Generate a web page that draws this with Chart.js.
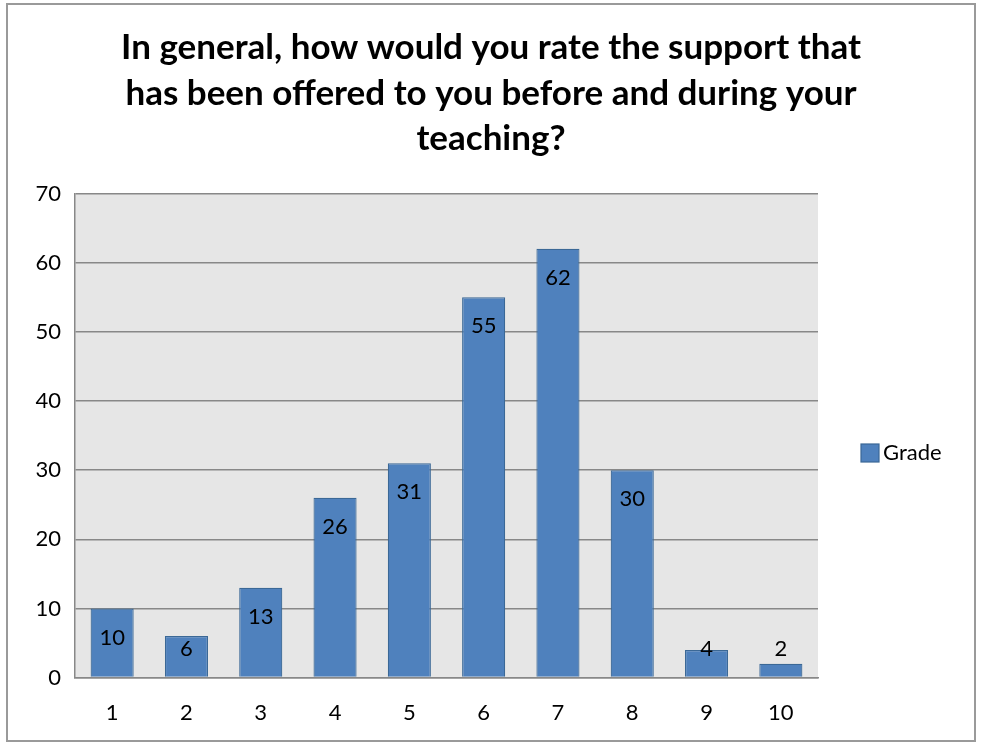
<!DOCTYPE html>
<html>
<head>
<meta charset="utf-8">
<script src="https://cdn.jsdelivr.net/npm/chart.js@4"></script>
<style>
  html, body { margin: 0; padding: 0; background: #fff; }
  #wrap { position: absolute; left: 0; top: 0; width: 982px; height: 746px; }
</style>
</head>
<body>
<div id="wrap"><canvas id="grades"></canvas></div>
<script>
// values
const categories = ['1', '2', '3', '4', '5', '6', '7', '8', '9', '10'];
const gradeCounts = [10, 6, 13, 26, 31, 55, 62, 30, 4, 2];
const yTicks = [0, 10, 20, 30, 40, 50, 60, 70];
const titleLines = [
  'In general, how would you rate the support that',
  'has been offered to you before and during your',
  'teaching?'
];

const FONT = 'Lato, "Liberation Sans", sans-serif';

// gray plot background + outer frame
const frame = {
  id: 'frame',
  beforeDraw(chart) {
    const { ctx, chartArea: a } = chart;
    ctx.save();
    ctx.fillStyle = '#e6e6e6';
    ctx.fillRect(a.left, a.top, a.right - a.left, a.bottom - a.top);
    ctx.strokeStyle = '#9a9a9a';
    ctx.lineWidth = 2;
    ctx.strokeRect(7, 4, 968, 737);
    ctx.restore();
  }
};

// value labels just inside the top of each bar
const barLabels = {
  id: 'barLabels',
  afterDatasetsDraw(chart) {
    const { ctx } = chart;
    const meta = chart.getDatasetMeta(0);
    ctx.save();
    ctx.font = '22px ' + FONT;
    ctx.fillStyle = '#000';
    ctx.textAlign = 'center';
    ctx.textBaseline = 'middle';
    meta.data.forEach((bar, i) => {
      const p = bar.getProps(['x', 'y', 'base'], true);
      const y = Math.min(p.y + 29, p.base - 28);
      ctx.fillText(String(gradeCounts[i]), p.x, y);
    });
    ctx.restore();
  }
};

// legend on the right, next to the plot
const sideLegend = {
  id: 'sideLegend',
  afterDraw(chart) {
    const { ctx, chartArea: a } = chart;
    const ds = chart.data.datasets[0];
    const x = a.right + 43;
    const y = 453;
    ctx.save();
    ctx.fillStyle = ds.backgroundColor;
    ctx.strokeStyle = ds.borderColor;
    ctx.lineWidth = 1.2;
    ctx.fillRect(x, y - 9, 18, 18);
    ctx.strokeRect(x, y - 9, 18, 18);
    ctx.font = '22px ' + FONT;
    ctx.fillStyle = '#000';
    ctx.textBaseline = 'middle';
    ctx.fillText(ds.label, x + 22, y);
    ctx.restore();
  }
};

const ctx = document.getElementById('grades');
const gradeChart = new Chart(ctx, {
  type: 'bar',
  data: {
    labels: categories,
    datasets: [{
      label: 'Grade',
      data: gradeCounts,
      backgroundColor: '#4f81bd',
      borderColor: '#3b6896',
      borderWidth: 1.2,
      barPercentage: 0.58,
      categoryPercentage: 1
    }]
  },
  options: {
    responsive: true,
    maintainAspectRatio: false,
    animation: false,
    devicePixelRatio: 1,
    layout: { padding: { left: 10, right: 10, top: 10, bottom: 6 } },
    plugins: {
      title: {
        display: true,
        text: titleLines,
        color: '#000',
        font: { family: FONT, size: 35, weight: 'bold', lineHeight: 1.3 },
        padding: { top: 15, bottom: 32 }
      },
      legend: { display: false },
      tooltip: { enabled: false }
    },
    scales: {
      x: {
        grid: { display: false },
        border: { color: '#888', width: 1.5 },
        ticks: { color: '#000', font: { family: FONT, size: 22 }, padding: 14 }
      },
      y: {
        min: 0,
        max: 70,
        afterBuildTicks(scale) {
          scale.ticks = yTicks.map(v => ({ value: v }));
        },
        afterFit(scale) { scale.width = 65; },
        grid: { color: '#888', lineWidth: 1.5, drawTicks: false },
        border: { color: '#888', width: 1.5 },
        ticks: { color: '#000', font: { family: FONT, size: 22 }, padding: 14 }
      },
      // empty right-hand box that reserves room for the legend
      side: {
        position: 'right',
        afterFit(scale) { scale.width = 154; },
        grid: { display: false },
        border: { display: false },
        ticks: { display: false }
      }
    }
  },
  plugins: [frame, barLabels, sideLegend]
});
</script>
</body>
</html>
